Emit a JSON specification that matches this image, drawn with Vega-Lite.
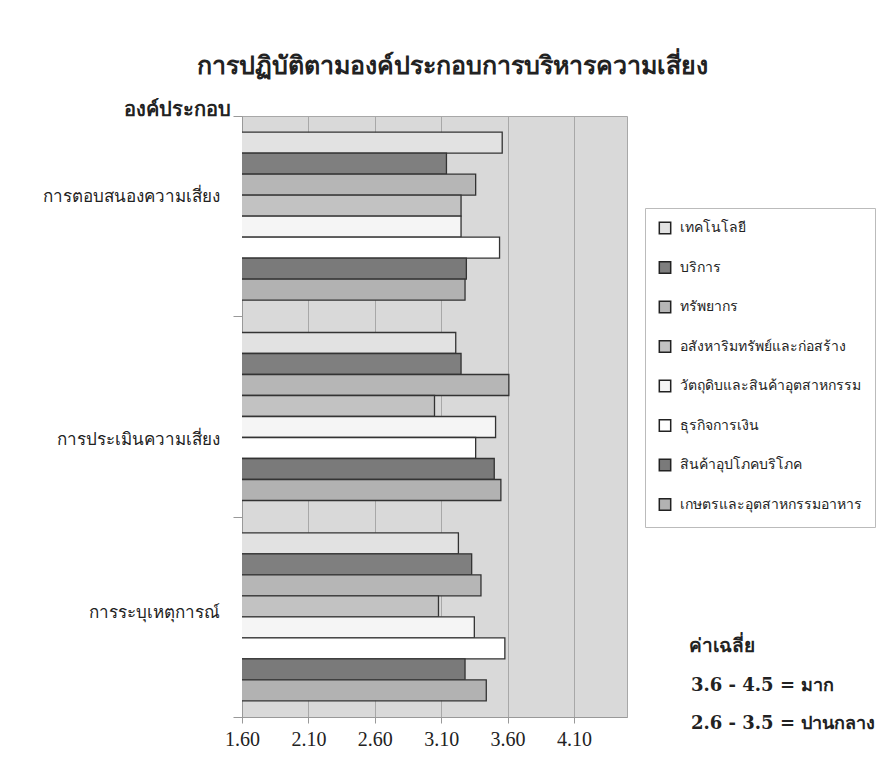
{
  "$schema": "https://vega.github.io/schema/vega-lite/v6.json",
  "width": 385,
  "height": 601,
  "autosize": {"type": "none"},
  "padding": {"left": 242, "top": 116, "right": 249, "bottom": 42},
  "background": "white",
  "view": {"fill": "#d9d9d9", "stroke": "#a8a8a8"},
  "title": {
    "text": "การปฏิบัติตามองค์ประกอบการบริหารความเสี่ยง",
    "fontSize": 25,
    "fontWeight": "bold",
    "anchor": "middle",
    "dx": 18,
    "offset": 20,
    "color": "#222"
  },
  "config": {
    "view": {"fill": "#d9d9d9", "stroke": "#a8a8a8"},
    "font": "Noto Sans"
  },
  "layer": [
    {
      "data": {
        "values": [
          {"component": "การตอบสนองความเสี่ยง", "sector": "เทคโนโลยี", "score": 3.56},
          {"component": "การตอบสนองความเสี่ยง", "sector": "บริการ", "score": 3.14},
          {"component": "การตอบสนองความเสี่ยง", "sector": "ทรัพยากร", "score": 3.36},
          {"component": "การตอบสนองความเสี่ยง", "sector": "อสังหาริมทรัพย์และก่อสร้าง", "score": 3.25},
          {"component": "การตอบสนองความเสี่ยง", "sector": "วัตถุดิบและสินค้าอุตสาหกรรม", "score": 3.25},
          {"component": "การตอบสนองความเสี่ยง", "sector": "ธุรกิจการเงิน", "score": 3.54},
          {"component": "การตอบสนองความเสี่ยง", "sector": "สินค้าอุปโภคบริโภค", "score": 3.29},
          {"component": "การตอบสนองความเสี่ยง", "sector": "เกษตรและอุตสาหกรรมอาหาร", "score": 3.28},
          {"component": "การประเมินความเสี่ยง", "sector": "เทคโนโลยี", "score": 3.21},
          {"component": "การประเมินความเสี่ยง", "sector": "บริการ", "score": 3.25},
          {"component": "การประเมินความเสี่ยง", "sector": "ทรัพยากร", "score": 3.61},
          {"component": "การประเมินความเสี่ยง", "sector": "อสังหาริมทรัพย์และก่อสร้าง", "score": 3.05},
          {"component": "การประเมินความเสี่ยง", "sector": "วัตถุดิบและสินค้าอุตสาหกรรม", "score": 3.51},
          {"component": "การประเมินความเสี่ยง", "sector": "ธุรกิจการเงิน", "score": 3.36},
          {"component": "การประเมินความเสี่ยง", "sector": "สินค้าอุปโภคบริโภค", "score": 3.50},
          {"component": "การประเมินความเสี่ยง", "sector": "เกษตรและอุตสาหกรรมอาหาร", "score": 3.55},
          {"component": "การระบุเหตุการณ์", "sector": "เทคโนโลยี", "score": 3.23},
          {"component": "การระบุเหตุการณ์", "sector": "บริการ", "score": 3.33},
          {"component": "การระบุเหตุการณ์", "sector": "ทรัพยากร", "score": 3.40},
          {"component": "การระบุเหตุการณ์", "sector": "อสังหาริมทรัพย์และก่อสร้าง", "score": 3.08},
          {"component": "การระบุเหตุการณ์", "sector": "วัตถุดิบและสินค้าอุตสาหกรรม", "score": 3.35},
          {"component": "การระบุเหตุการณ์", "sector": "ธุรกิจการเงิน", "score": 3.58},
          {"component": "การระบุเหตุการณ์", "sector": "สินค้าอุปโภคบริโภค", "score": 3.28},
          {"component": "การระบุเหตุการณ์", "sector": "เกษตรและอุตสาหกรรมอาหาร", "score": 3.44}
        ]
      },
      "mark": {"type": "bar", "stroke": "#333333", "strokeWidth": 1.3, "clip": true},
      "encoding": {
        "y": {
          "field": "component",
          "type": "nominal",
          "sort": ["การตอบสนองความเสี่ยง", "การประเมินความเสี่ยง", "การระบุเหตุการณ์"],
          "scale": {"paddingInner": 0, "paddingOuter": 0},
          "axis": {
            "title": "องค์ประกอบ",
            "titleAngle": 0,
            "titleAlign": "right",
            "titleBaseline": "middle",
            "titleX": -12,
            "titleY": -7,
            "titleFontSize": 20,
            "titleFontWeight": "bold",
            "titleColor": "#222",
            "labelFontSize": 17,
            "labelColor": "#222",
            "labelPadding": 14,
            "labelLimit": 240,
            "labelOffset": {"expr": "datum.value === 'การตอบสนองความเสี่ยง' ? -20 : datum.value === 'การประเมินความเสี่ยง' ? 23 : -4"},
            "tickSize": 9,
            "tickBand": "extent",
            "domainColor": "#999",
            "tickColor": "#999"
          }
        },
        "yOffset": {
          "field": "sector",
          "type": "nominal",
          "sort": ["เทคโนโลยี", "บริการ", "ทรัพยากร", "อสังหาริมทรัพย์และก่อสร้าง", "วัตถุดิบและสินค้าอุตสาหกรรม", "ธุรกิจการเงิน", "สินค้าอุปโภคบริโภค", "เกษตรและอุตสาหกรรมอาหาร"],
          "scale": {"paddingInner": 0, "paddingOuter": 0.77}
        },
        "x": {
          "field": "score",
          "type": "quantitative",
          "scale": {"domain": [1.6, 4.5], "nice": false, "zero": false},
          "axis": {
            "title": null,
            "values": [1.6, 2.1, 2.6, 3.1, 3.6, 4.1],
            "format": ".2f",
            "grid": true,
            "gridColor": "#a8a8a8",
            "domainColor": "#999",
            "tickColor": "#999",
            "tickSize": 6,
            "labelFlush": false,
            "labelFont": "Liberation Serif",
            "labelFontSize": 20,
            "labelColor": "#222",
            "labelPadding": 6
          }
        },
        "color": {
          "field": "sector",
          "type": "nominal",
          "scale": {
            "domain": ["เทคโนโลยี", "บริการ", "ทรัพยากร", "อสังหาริมทรัพย์และก่อสร้าง", "วัตถุดิบและสินค้าอุตสาหกรรม", "ธุรกิจการเงิน", "สินค้าอุปโภคบริโภค", "เกษตรและอุตสาหกรรมอาหาร"],
            "range": ["#e2e2e2", "#7f7f7f", "#b6b6b6", "#c2c2c2", "#f5f5f5", "#ffffff", "#7a7a7a", "#b2b2b2"]
          },
          "legend": {
            "title": null,
            "orient": "none",
            "legendX": 403,
            "legendY": 92,
            "direction": "vertical",
            "fillColor": "white",
            "strokeColor": "#bbbbbb",
            "padding": 13,
            "symbolType": "square",
            "symbolSize": 130,
            "symbolStrokeColor": "#222",
            "symbolStrokeWidth": 1.5,
            "labelFontSize": 14,
            "labelColor": "#222",
            "labelOffset": 8,
            "labelLimit": 192,
            "rowPadding": 21.5
          }
        }
      }
    },
    {
      "data": {"values": [{"level": "3.6 - 4.5 = มาก"}, {"level": "2.6 - 3.5 = ปานกลาง"}]},
      "mark": {"type": "point", "opacity": 0},
      "encoding": {
        "shape": {
          "field": "level",
          "type": "nominal",
          "scale": {"domain": ["3.6 - 4.5 = มาก", "2.6 - 3.5 = ปานกลาง"]},
          "legend": {
            "title": "ค่าเฉลี่ย",
            "orient": "none",
            "legendX": 447,
            "legendY": 521,
            "titleFontSize": 19,
            "titleFontWeight": "bold",
            "titleColor": "#222",
            "titlePadding": 21,
            "titleLimit": 300,
            "labelFontSize": 18,
            "labelFontWeight": "bold",
            "labelColor": "#222",
            "labelFont": "DejaVu Serif",
            "labelOffset": -16,
            "labelLimit": 300,
            "symbolSize": 0,
            "symbolOpacity": 0,
            "rowPadding": 20
          }
        }
      }
    }
  ]
}
